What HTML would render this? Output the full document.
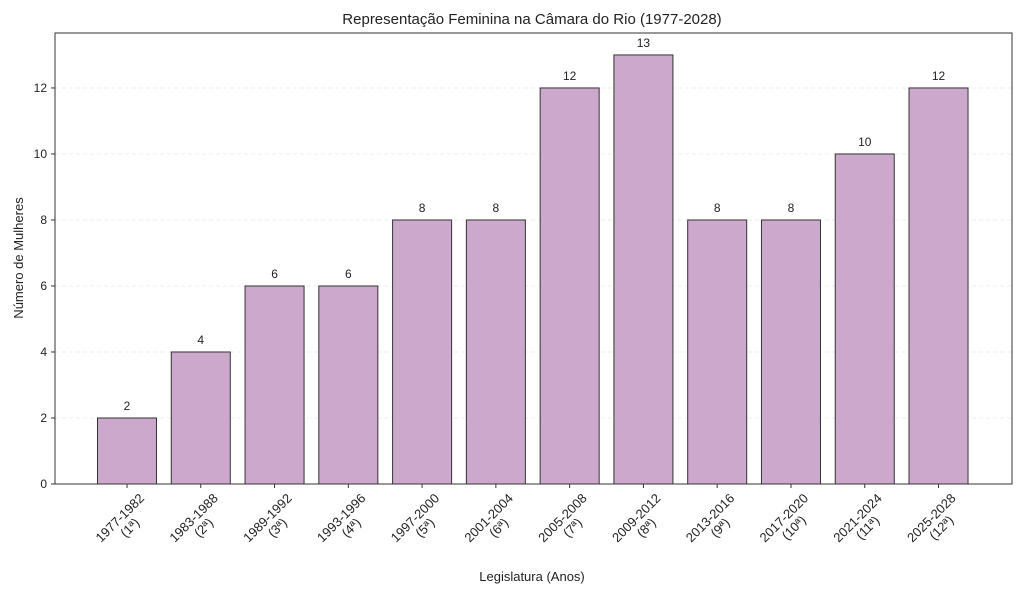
<!DOCTYPE html>
<html><head><meta charset="utf-8"><style>
body{margin:0;background:#fff}
text{font-family:"Liberation Sans",sans-serif;fill:#222}
</style></head><body>
<svg id="chart" width="1024" height="597" xmlns="http://www.w3.org/2000/svg">
<text x="532" y="24" font-size="15" text-anchor="middle">Representação Feminina na Câmara do Rio (1977-2028)</text>
<text x="532" y="581" font-size="13" text-anchor="middle">Legislatura (Anos)</text>
<text transform="translate(23,258) rotate(-90)" font-size="13" text-anchor="middle">Número de Mulheres</text>
<g id="grid"></g><g id="bars"></g><g id="labels"></g><g id="ticks"></g>
<rect x="55" y="33" width="957" height="451" fill="none" stroke="#333" stroke-width="1"/>
</svg>
<script>
const periods=["1977-1982","1983-1988","1989-1992","1993-1996","1997-2000","2001-2004","2005-2008","2009-2012","2013-2016","2017-2020","2021-2024","2025-2028"];
const ordinals=["(1ª)","(2ª)","(3ª)","(4ª)","(5ª)","(6ª)","(7ª)","(8ª)","(9ª)","(10ª)","(11ª)","(12ª)"];
const women=[2,4,6,6,8,8,12,13,8,8,10,12];
const yTicks=[0,2,4,6,8,10,12];
const NS="http://www.w3.org/2000/svg";
const L=55,R=1012,T=33,B=484,xmin=-0.976,xmax=11.996,ymax=13.665;
const xs=i=>L+(i-xmin)/(xmax-xmin)*(R-L);
const ys=v=>B-v/ymax*(B-T);
const bw=0.8*(R-L)/(xmax-xmin);
function mk(tag,attrs,parent,txt){const e=document.createElementNS(NS,tag);for(const k in attrs)e.setAttribute(k,attrs[k]);if(txt!==undefined)e.textContent=txt;document.getElementById(parent).appendChild(e);return e;}
yTicks.forEach(v=>{
 const g=mk('line',{x1:L,x2:R,y1:ys(v),y2:ys(v),stroke:'#ececec','stroke-dasharray':'4,3'},'grid');
 
 
 const t=mk('line',{x1:L-4,x2:L,y1:ys(v),y2:ys(v),stroke:'#333'},'ticks');
 
 
 const l=mk('text',{x:L-8,y:ys(v)+4,'font-size':12,'text-anchor':'end'},'ticks',v);
 
 
});
women.forEach((v,i)=>{
 const cx=xs(i);
 const r=mk('rect',{x:cx-bw/2,y:ys(v),width:bw,height:B-ys(v),fill:'#cca9cc',stroke:'#333','stroke-width':1},'bars');
 
 
 const vl=mk('text',{x:cx,y:ys(v)-8,'font-size':12,'text-anchor':'middle'},'labels',v);
 
 
 const tk=mk('line',{x1:cx,x2:cx,y1:B,y2:B+4,stroke:'#333'},'ticks');
 
 
 const g=mk('g',{transform:`translate(${cx+18},499) rotate(-45)`},'ticks');
 
 
 const a=document.createElementNS(NS,'text');a.setAttribute('x',0);a.setAttribute('y',0);a.setAttribute('font-size',13);a.setAttribute('text-anchor','end');a.textContent=periods[i];g.appendChild(a);
 const b=document.createElementNS(NS,'text');b.setAttribute('x',-31);b.setAttribute('y',14);b.setAttribute('font-size',13);b.setAttribute('text-anchor','middle');b.textContent=ordinals[i];g.appendChild(b);
});
</script>
</body></html>
